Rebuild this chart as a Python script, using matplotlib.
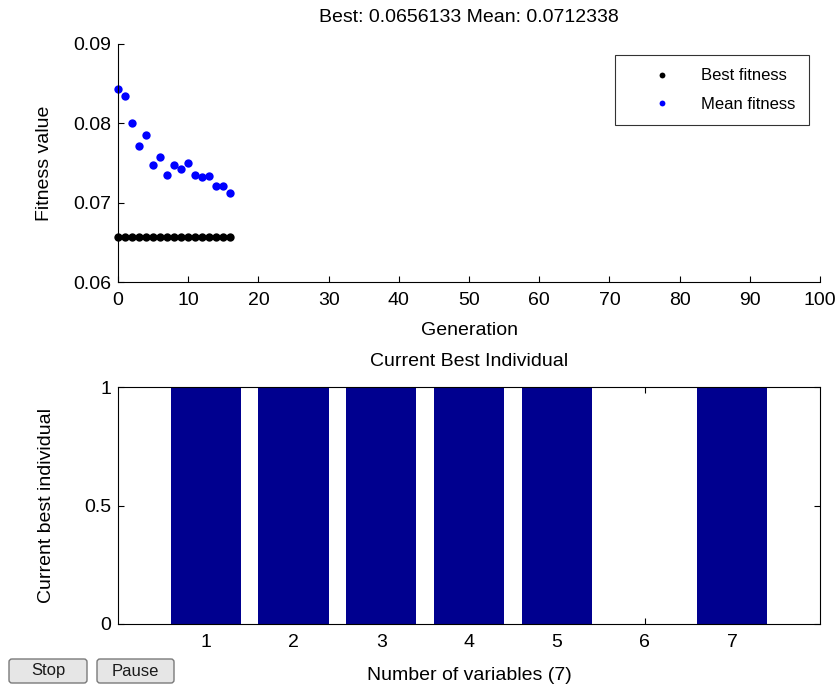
import matplotlib
matplotlib.use('Agg')
import matplotlib.pyplot as plt
from matplotlib.patches import FancyBboxPatch
from matplotlib.transforms import IdentityTransform

#data
generations = [0, 1, 2, 3, 4, 5, 6, 7, 8, 9, 10, 11, 12, 13, 14, 15, 16]
best_fitness = [0.0656133, 0.0656133, 0.0656133, 0.0656133, 0.0656133, 0.0656133,
                0.0656133, 0.0656133, 0.0656133, 0.0656133, 0.0656133, 0.0656133,
                0.0656133, 0.0656133, 0.0656133, 0.0656133, 0.0656133]
mean_fitness = [0.0843, 0.0835, 0.0800, 0.0771, 0.0785, 0.0748, 0.0758, 0.0735, 0.0748,
                0.0743, 0.0750, 0.0735, 0.0732, 0.0734, 0.0721, 0.0721, 0.0712338]
variables = [1, 2, 3, 4, 5, 6, 7]
best_individual = [1, 1, 1, 1, 1, 0, 1]
gen_ticks = [0, 10, 20, 30, 40, 50, 60, 70, 80, 90, 100]
fit_ticks = [0.06, 0.07, 0.08, 0.09]
fit_labels = ['0.06', '0.07', '0.08', '0.09']
ind_ticks = [0, 0.5, 1]
ind_labels = ['0', '0.5', '1']

plt.rcParams['font.family'] = ['Liberation Sans', 'DejaVu Sans']
plt.rcParams['font.size'] = 14

W, H = 840, 692
fig = plt.figure(figsize=(W / 100, H / 100), dpi=100)
fig.patch.set_facecolor('white')

#top plot: fitness per generation
ax1 = fig.add_axes([118 / W, 1 - 282 / H, 702 / W, 238 / H])
ax1.plot(generations, best_fitness, 'o', color='black', markersize=6, markeredgewidth=0,
         label='Best fitness', clip_on=False)
ax1.plot(generations, mean_fitness, 'o', color='blue', markersize=6, markeredgewidth=0,
         label='Mean fitness', clip_on=False)
ax1.set_xlim(0, 100)
ax1.set_ylim(0.06, 0.09)
ax1.set_xticks(gen_ticks)
ax1.set_yticks(fit_ticks)
ax1.set_yticklabels(fit_labels)
ax1.spines['top'].set_visible(False)
ax1.spines['right'].set_visible(False)
ax1.tick_params(direction='in', length=4, width=0.8, labelsize=14)
ax1.tick_params(axis='x', pad=7)
ax1.tick_params(axis='y', pad=5)
ax1.set_xlabel('Generation', fontsize=14, va='center')
ax1.xaxis.set_label_coords(0.5, -(330 - 282) / 238)
ax1.set_ylabel('Fitness value', fontsize=14, va='center')
ax1.yaxis.set_label_coords((45 - 118) / 702, 0.5)
ax1.text(0.5, 1 + (44 - 18) / 238, 'Best: 0.0656133 Mean: 0.0712338', transform=ax1.transAxes,
         ha='center', va='center', fontsize=14)
leg = ax1.legend(loc='upper right', bbox_to_anchor=((809 - 118) / 702, 1 - (55 - 44) / 238),
                 fontsize=12, markerscale=0.7, fancybox=False, edgecolor='black',
                 handlelength=4.1, handletextpad=0.3, borderpad=0.8, labelspacing=0.8,
                 borderaxespad=0)
leg.get_frame().set_linewidth(0.8)

#bottom plot: current best individual
ax2 = fig.add_axes([118 / W, 1 - 624 / H, 702 / W, 237 / H])
ax2.bar(variables, best_individual, width=0.8, color='#00008F', edgecolor='none')
ax2.set_xlim(0, 8)
ax2.set_ylim(0, 1)
ax2.set_xticks(variables)
ax2.set_yticks(ind_ticks)
ax2.set_yticklabels(ind_labels)
ax2.set_axisbelow(True)
ax2.tick_params(direction='in', length=4, width=0.8, labelsize=14, top=True, right=True)
ax2.tick_params(axis='x', pad=7)
ax2.tick_params(axis='y', pad=5)
ax2.set_xlabel('Number of variables (7)', fontsize=14, va='center')
ax2.xaxis.set_label_coords(0.5, -(675 - 624) / 237)
ax2.set_ylabel('Current best individual', fontsize=14, va='center')
ax2.yaxis.set_label_coords((47 - 118) / 702, 0.5)
ax2.text(0.5, 1 + (387 - 362) / 237, 'Current Best Individual', transform=ax2.transAxes,
         ha='center', va='center', fontsize=14)

#Stop / Pause buttons
for label, x0, x1 in [('Stop', 9, 87), ('Pause', 97, 174)]:
    btn = FancyBboxPatch((x0, H - 683), x1 - x0, 24, boxstyle='round,pad=0,rounding_size=3',
                         facecolor='#e6e6e6', edgecolor='#7a7a7a', linewidth=1,
                         transform=IdentityTransform())
    fig.patches.append(btn)
    fig.text((x0 + x1) / 2 / W, (H - 671) / H, label, ha='center', va='center',
             fontsize=12, color='#1a1a1a')

fig.savefig('out.png', dpi=100)
